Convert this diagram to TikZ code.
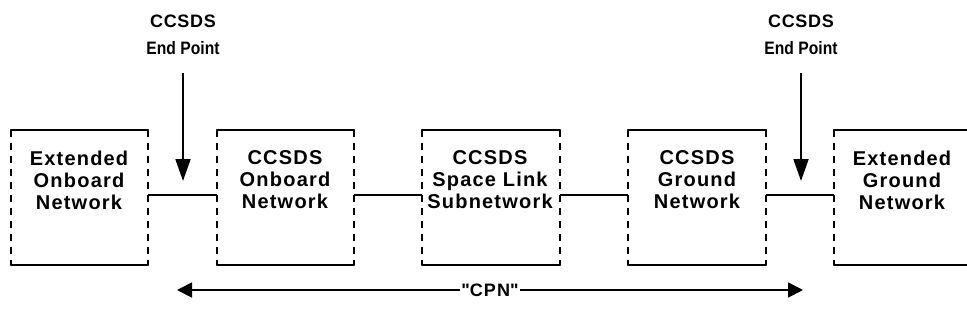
\documentclass[tikz,border=0pt]{standalone}
\usepackage{fontspec}
\setmainfont{Liberation Sans}[LetterSpace=6]
\usetikzlibrary{arrows.meta}
\begin{document}
\begin{tikzpicture}[x=1pt,y=-1pt,
  boxbody/.style={rectangle, inner sep=0pt, minimum height=135pt},
  boxtext/.style={font=\bfseries\fontsize{20}{22}\selectfont, align=center, inner sep=0pt},
  eptext/.style={font=\bfseries\fontsize{18}{27}\selectfont, align=center, inner sep=0pt},
  solidedge/.style={line width=1.8pt, line cap=round},
  dashedge/.style={line width=1.8pt, dash pattern=on 7pt off 6pt},
  link/.style={line width=1.8pt},
  tiparrow/.style={line width=1.8pt, -{Triangle[length=22pt,width=15pt]}},
  spanarrow/.style={line width=1.8pt, -{Triangle[length=15pt,width=15pt]}}
]
\useasboundingbox (0,0) rectangle (967,324);

% boxes
\node[boxbody, minimum width=137pt] (b1) at (79.5,197.5) {};
\node[boxbody, minimum width=137pt] (b2) at (285.5,197.5) {};
\node[boxbody, minimum width=138pt] (b3) at (491,197.5) {};
\node[boxbody, minimum width=138pt] (b4) at (697,197.5) {};
\node[boxbody, minimum width=133pt] (b5) at (900.5,197.5) {};

\foreach \n in {b1,b2,b3,b4}{
  \draw[solidedge] (\n.north west) -- (\n.north east);
  \draw[solidedge] (\n.south west) -- (\n.south east);
  \draw[dashedge] (\n.north west) -- (\n.south west);
  \draw[dashedge] (\n.north east) -- (\n.south east);
}
\draw[solidedge] (b5.north west) -- (b5.north east);
\draw[solidedge] (b5.south west) -- (b5.south east);
\draw[dashedge] (b5.north west) -- (b5.south west);

% box texts
\node[boxtext] (t1) at (79,180) {Extended\\Onboard\\Network};
\node[boxtext] (t2) at (285,180) {CCSDS\\Onboard\\Network};
\node[boxtext] (t3) at (490,180) {CCSDS\\Space Link\\Subnetwork};
\node[boxtext] (t4) at (697,180) {CCSDS\\Ground\\Network};
\node[boxtext] (t5) at (902,180) {Extended\\Ground\\Network};

% links
\draw[link] (b1.east |- 0,195) -- (b2.west |- 0,195);
\draw[link] (b2.east |- 0,195) -- (b3.west |- 0,195);
\draw[link] (b3.east |- 0,195) -- (b4.west |- 0,195);
\draw[link] (b4.east |- 0,195) -- (b5.west |- 0,195);

% end points
\node[eptext] (ep1) at (183,35) {{\addfontfeatures{LetterSpace=4}CCSDS}\\{\addfontfeatures{LetterSpace=0,FakeStretch=0.87}End Point}};
\node[eptext] (ep2) at (801,35) {{\addfontfeatures{LetterSpace=4}CCSDS}\\{\addfontfeatures{LetterSpace=0,FakeStretch=0.87}End Point}};
\coordinate (tip1) at (183,181);
\coordinate (tip2) at (801,181);
\draw[tiparrow, shorten <=18pt] (ep1.south) -- (tip1);
\draw[tiparrow, shorten <=18pt] (ep2.south) -- (tip2);

% CPN span
\node[font=\bfseries\fontsize{18}{20}\selectfont, fill=white, inner sep=1pt] (cpn) at (490,290) {\textquotedbl CPN\textquotedbl};
\coordinate (cpnL) at (177,290);
\coordinate (cpnR) at (803,290);
\draw[spanarrow] (cpn.west) -- (cpnL);
\draw[spanarrow] (cpn.east) -- (cpnR);
\end{tikzpicture}
\end{document}
